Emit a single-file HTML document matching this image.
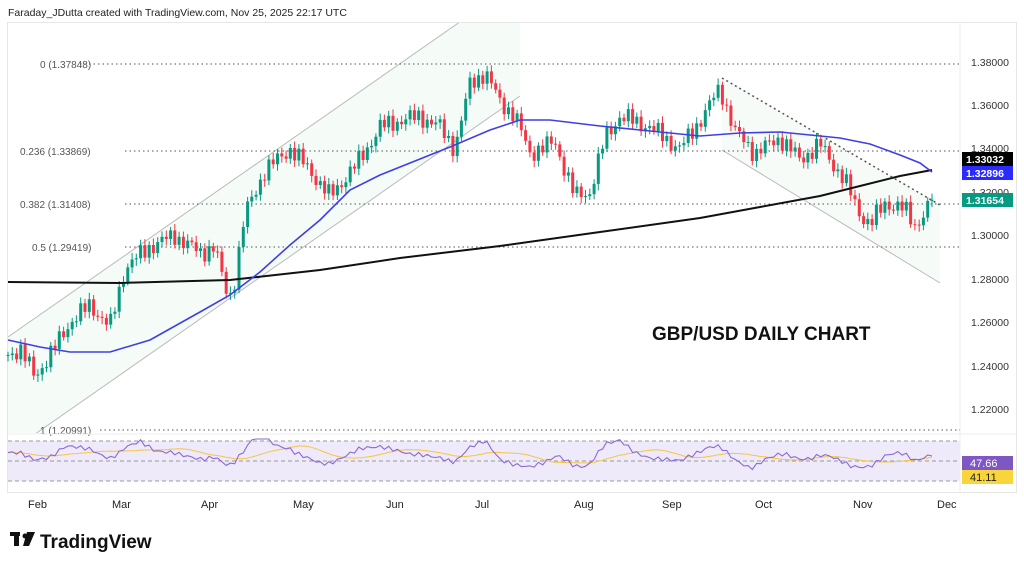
<!DOCTYPE html>
<html><head><meta charset="utf-8"><style>
body{margin:0;width:1024px;height:567px;background:#fff;overflow:hidden;font-family:"Liberation Sans",sans-serif}
svg{position:absolute;left:0;top:0}
</style></head><body>
<svg id="s" width="1024" height="567" xmlns="http://www.w3.org/2000/svg" font-family="Liberation Sans, sans-serif">
<defs><clipPath id="cp"><rect x="8" y="23" width="952" height="410"/></clipPath></defs>
<text x="8" y="16" font-size="10.5" fill="#222">Faraday_JDutta created with TradingView.com, Nov 25, 2025 22:17 UTC</text>
<rect x="7.5" y="22.5" width="1009" height="470" fill="none" stroke="#e6e6e6"/>
<line x1="960" y1="23" x2="960" y2="492" stroke="#eee"/>
<g clip-path="url(#cp)">
<polygon points="8,337 520,-20 520,96 8,453" fill="#f5fbf7"/>
<polygon points="722,78 940,205 940,283 722,150" fill="#f6fbf8"/>
<line x1="8" y1="337" x2="520" y2="-20" stroke="#bbb"/>
<line x1="8" y1="453" x2="520" y2="96" stroke="#bbb"/>
<line x1="722" y1="150" x2="940" y2="283" stroke="#bbb"/>
</g>
<g stroke="#555" stroke-dasharray="1.5,3" stroke-width="1">
<line x1="80" y1="64" x2="960" y2="64"/><line x1="125" y1="151" x2="960" y2="151"/>
<line x1="125" y1="204" x2="960" y2="204"/><line x1="125" y1="247" x2="960" y2="247"/>
<line x1="100" y1="430" x2="960" y2="430"/></g>
<g font-size="10" fill="#555">
<text x="40" y="68">0 (1.37848)</text><text x="20" y="155">0.236 (1.33869)</text>
<text x="20" y="208">0.382 (1.31408)</text><text x="32" y="251">0.5 (1.29419)</text>
<text x="40" y="434">1 (1.20991)</text></g>
<g font-size="10.5" fill="#333">
<text x="971" y="66">1.38000</text><text x="971" y="109">1.36000</text><text x="971" y="152">1.34000</text>
<text x="971" y="196">1.32000</text><text x="971" y="239">1.30000</text><text x="971" y="283">1.28000</text>
<text x="971" y="326">1.26000</text><text x="971" y="370">1.24000</text><text x="971" y="413">1.22000</text></g>
<g id="c"></g>
<polyline fill="none" stroke="#111" stroke-width="2" points="8,282 120,283 230,280 320,270 400,258 500,246 600,232 700,218 760,207 820,196 860,186 900,176 932,170"/>
<polyline fill="none" stroke="#3f3fe6" stroke-width="1.6" points="8,340 40,347 70,352 110,352 150,340 200,312 230,295 260,272 290,245 320,220 350,190 380,175 410,163 450,147 490,130 520,120 550,120 600,126 650,131 700,136 740,133 780,132 810,135 840,138 870,144 900,155 920,163 932,172"/>
<line x1="722" y1="78" x2="940" y2="205" stroke="#555" stroke-dasharray="2,3" stroke-width="1.5"/>
<text x="652" y="340" font-size="19" font-weight="bold" fill="#111">GBP/USD DAILY CHART</text>
<rect x="962" y="152" width="51" height="14" fill="#000"/><text x="966" y="163" font-size="10.5" font-weight="bold" fill="#fff">1.33032</text>
<rect x="962" y="166" width="51" height="14" fill="#2b2bff"/><text x="966" y="177" font-size="10.5" font-weight="bold" fill="#fff">1.32896</text>
<rect x="962" y="193" width="51" height="14" fill="#089981"/><text x="966" y="204" font-size="10.5" font-weight="bold" fill="#fff">1.31654</text>
<line x1="8" y1="434" x2="1016" y2="434" stroke="#eee"/>
<rect x="8" y="441" width="952" height="40" fill="#efeaf9"/>
<g stroke="#999" stroke-dasharray="4,3"><line x1="8" y1="441" x2="960" y2="441"/><line x1="8" y1="461" x2="960" y2="461"/><line x1="8" y1="481" x2="960" y2="481"/></g>
<polyline id="rma" fill="none" stroke="#f5c542" stroke-width="1"/>
<polyline id="rsi" fill="none" stroke="#8a6ad6" stroke-width="1.1"/>
<rect x="962" y="456" width="51" height="14" fill="#7e57c2"/><text x="970" y="467" font-size="11" fill="#fff">47.66</text>
<rect x="962" y="470" width="51" height="14" fill="#f8d53b"/><text x="970" y="481" font-size="11" fill="#222">41.11</text>
<g font-size="11" fill="#222"><text x="28" y="508">Feb</text><text x="112" y="508">Mar</text><text x="201" y="508">Apr</text><text x="293" y="508">May</text><text x="386" y="508">Jun</text><text x="475" y="508">Jul</text><text x="574" y="508">Aug</text><text x="662" y="508">Sep</text><text x="755" y="508">Oct</text><text x="853" y="508">Nov</text><text x="937" y="508">Dec</text></g>
<g transform="translate(10,532)"><rect x="0" y="0" width="10" height="4" fill="#111"/><rect x="4" y="0" width="5" height="14" fill="#111"/><circle cx="15" cy="4" r="2.5" fill="#111"/><polygon points="17,0 25,0 19,14 13,14" fill="#111"/></g>
<text x="40" y="548" font-size="19" font-weight="bold" fill="#111">TradingView</text>
</svg>
<script>
var kp=[[8,1.245],[20,1.248],[35,1.235],[50,1.245],[70,1.26],[90,1.268],[110,1.258],[125,1.285],[150,1.295],[175,1.30],[200,1.292],[215,1.295],[225,1.275],[232,1.272],[245,1.31],[265,1.33],[290,1.34],[310,1.33],[330,1.318],[360,1.335],[380,1.35],[400,1.353],[420,1.355],[440,1.35],[455,1.34],[470,1.37],[485,1.375],[500,1.362],[515,1.355],[530,1.338],[555,1.343],[575,1.318],[590,1.32],[605,1.345],[620,1.355],[650,1.35],[680,1.34],[700,1.353],[720,1.368],[735,1.348],[755,1.338],[780,1.345],[800,1.335],[820,1.342],[845,1.325],[860,1.31],[870,1.305],[885,1.315],[905,1.312],[915,1.305],[925,1.31],[932,1.3165]];
function P(x){for(var i=1;i<kp.length;i++){if(x<=kp[i][0]){var a=kp[i-1],b=kp[i];return a[1]+(b[1]-a[1])*(x-a[0])/(b[0]-a[0]);}}return kp[kp.length-1][1];}
function Y(p){return 62+(1.38-p)/0.02*43.4;}
var g='',prev=P(8),n=217,rs=[],rp=[];
for(var i=0;i<n;i++){var x=8+i*(924/(n-1));var c=P(x)+0.003*Math.sin(i*2.7)+0.002*Math.sin(i*5.3);if(i==n-1)c=1.3165;
var o=prev,hi=Math.max(o,c)+0.0015+0.0015*Math.abs(Math.sin(i*1.9)),lo=Math.min(o,c)-0.0015-0.0015*Math.abs(Math.cos(i*2.3));
var col=c>=o?'#089981':'#f23645';var y1=Y(Math.max(o,c)),y2=Y(Math.min(o,c));if(y2-y1<1)y2=y1+1;
g+='<line x1="'+x.toFixed(1)+'" x2="'+x.toFixed(1)+'" y1="'+Y(hi).toFixed(1)+'" y2="'+Y(lo).toFixed(1)+'" stroke="'+col+'"/>';
g+='<rect x="'+(x-1.5).toFixed(1)+'" y="'+y1.toFixed(1)+'" width="3" height="'+(y2-y1).toFixed(1)+'" fill="'+col+'"/>';
var r=55+(P(x)-P(x-30))*450+2*Math.sin(i*2.7);r=Math.max(32,Math.min(72,r));rs.push(r);rp.push([x,r]);prev=c;}
var pts='',mp='';for(var i=0;i<rp.length;i++){pts+=rp[i][0].toFixed(1)+','+(461-(rp[i][1]-50)).toFixed(1)+' ';var s=0,k=0;for(var j=Math.max(0,i-14);j<=i;j++){s+=rs[j];k++;}mp+=rp[i][0].toFixed(1)+','+(461-(s/k-50)).toFixed(1)+' ';}
document.getElementById('c').innerHTML=g;document.getElementById('rsi').setAttribute('points',pts);document.getElementById('rma').setAttribute('points',mp);
</script>
</body></html>
